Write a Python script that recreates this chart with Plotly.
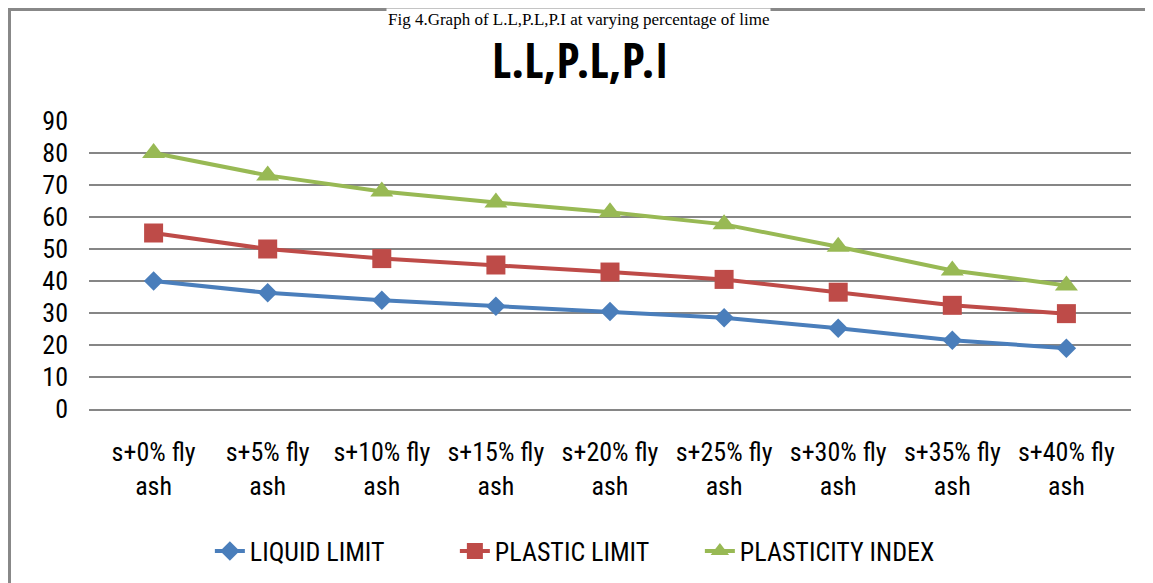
import plotly.graph_objects as go

categories = ["s+0% fly ash", "s+5% fly ash", "s+10% fly ash", "s+15% fly ash", "s+20% fly ash",
              "s+25% fly ash", "s+30% fly ash", "s+35% fly ash", "s+40% fly ash"]
tick_labels = ["s+0% fly<br>ash", "s+5% fly<br>ash", "s+10% fly<br>ash", "s+15% fly<br>ash", "s+20% fly<br>ash",
               "s+25% fly<br>ash", "s+30% fly<br>ash", "s+35% fly<br>ash", "s+40% fly<br>ash"]
liquid_limit = [40, 36.3, 34, 32.1, 30.5, 28.5, 25.2, 21.5, 19]
plastic_limit = [55, 50, 47, 45, 42.8, 40.5, 36.5, 32.4, 29.8]
plasticity_index = [80, 73, 68, 64.5, 61.5, 57.7, 50.7, 43.3, 38.6]
y_ticks = [0, 10, 20, 30, 40, 50, 60, 70, 80, 90]

FONT = "Roboto Condensed, Liberation Sans Narrow, sans-serif"
TITLE_FONT = "Open Sans Condensed, Roboto Condensed, sans-serif"
GRID = "#868686"

fig = go.Figure()
fig.add_trace(go.Scatter(x=categories, y=liquid_limit, name="LIQUID LIMIT", mode="lines+markers",
                         line=dict(color="#4A7EBB", width=4),
                         marker=dict(symbol="diamond", size=15, color="#4A7EBB")))
fig.add_trace(go.Scatter(x=categories, y=plastic_limit, name="PLASTIC LIMIT", mode="lines+markers",
                         line=dict(color="#BE4B48", width=4),
                         marker=dict(symbol="square", size=19, color="#BE4B48")))
fig.add_trace(go.Scatter(x=categories, y=plasticity_index, name="PLASTICITY INDEX", mode="lines+markers",
                         line=dict(color="#98B954", width=4),
                         marker=dict(symbol="triangle-up", size=20, color="#98B954")))

fig.update_layout(
    width=1145, height=575,
    margin=dict(l=81, r=22, t=113, b=174, autoexpand=False),
    paper_bgcolor="white", plot_bgcolor="white",
    font=dict(family=FONT, size=26, color="black"),
    title=dict(text="<b>L.L,P.L,P.I</b>", x=0.5, xanchor="center", y=0.908, yanchor="middle",
               font=dict(family=TITLE_FONT, size=48, color="black")),
    showlegend=True,
    legend=dict(orientation="h", x=0.116, xanchor="left", y=-0.493, yanchor="middle",
                entrywidth=200, entrywidthmode="pixels",
                font=dict(family=FONT, size=26), traceorder="normal"),
    xaxis=dict(tickmode="array", tickvals=categories, ticktext=tick_labels, automargin=False,
               showgrid=False, showline=True, linecolor=GRID, linewidth=1.5, ticks="",
               ticklabelstandoff=19, tickfont=dict(family=FONT, size=26)),
    yaxis=dict(range=[0, 90], tickvals=y_ticks, showgrid=True, gridcolor=GRID, gridwidth=1.5,
               zeroline=False, showline=False, ticks="", ticklabelstandoff=20, automargin=False,
               tickfont=dict(family=FONT, size=26)),
    shapes=[dict(type="rect", xref="paper", yref="paper", x0=-0.0763, x1=1.1, y0=-0.8, y1=1.387,
                 line=dict(color="#888888", width=3), fillcolor="rgba(0,0,0,0)", layer="below")],
    annotations=[dict(text="Fig 4.Graph of L.L,P.L,P.I at varying percentage of lime", xref="paper", yref="paper",
                      x=0.47, y=1.392, xanchor="center", yanchor="top", showarrow=False, bgcolor="white",
                      font=dict(family="Liberation Serif, Times New Roman, serif", size=17, color="black"))],
)

fig.write_html("out.html")
